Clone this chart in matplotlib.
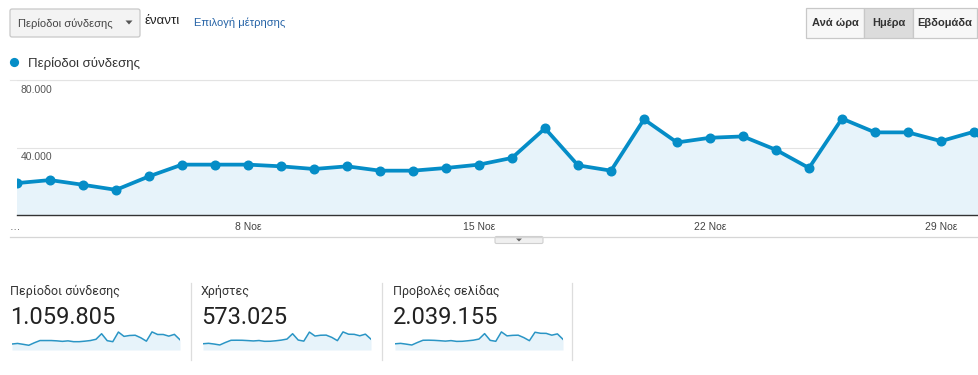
import matplotlib
matplotlib.use("Agg")
import matplotlib.pyplot as plt
from matplotlib.patches import FancyBboxPatch, Rectangle, Circle, Polygon

# ---------------- data ----------------
day_index = list(range(31))  # 1 Nov .. 1 Dec
sessions = [18900, 20700, 17900, 14900, 22900, 29850, 29850, 29850, 28850, 27250,
            28850, 26270, 26270, 27860, 29850, 33830, 51340, 29430, 26270, 56700,
            42990, 45770, 46570, 38610, 27860, 57110, 48960, 48960, 43780, 49350,
            32200]
users = [10300, 11000, 9800, 8300, 12400, 16000, 16100, 16000, 15500, 14900,
         15600, 14300, 14400, 15200, 16300, 18000, 26800, 16400, 14600, 29500,
         23000, 24300, 24500, 20800, 15400, 29800, 26000, 25800, 23400, 26100,
         17800]
pageviews = [36000, 38500, 34000, 29000, 43500, 56500, 57000, 56000, 54000, 51500,
             54500, 50000, 50500, 53500, 57000, 63500, 95000, 56000, 50500, 105000,
             82000, 85000, 86000, 72000, 54000, 103000, 97000, 96500, 86000, 93500,
             62000]
tick_days = [7, 14, 21, 28]
tick_labels = ["8 Νοε", "15 Νοε", "22 Νοε", "29 Νοε"]
y_ticks = [40000, 80000]
y_tick_labels = ["40.000", "80.000"]
metric_names = ["Περίοδοι σύνδεσης", "Χρήστες", "Προβολές σελίδας"]
metric_totals = ["1.059.805", "573.025", "2.039.155"]
buttons = ["Ανά ώρα", "Ημέρα", "Εβδομάδα"]

BLUE = "#058dc7"
FILL = "#e7f3fa"
W, H = 979, 375

plt.rcParams['font.family'] = ['Liberation Sans', 'DejaVu Sans']
fig = plt.figure(figsize=(W / 100, H / 100), dpi=100)
fig.patch.set_facecolor("white")

# overlay axes in pixel coordinates for UI decorations
ui = fig.add_axes([0, 0, 1, 1], zorder=0)
ui.set_xlim(0, W)
ui.set_ylim(H, 0)
ui.axis("off")


def fb(x, y, w, h):
    return [x / W, 1 - (y + h) / H, w / W, h / H]


# ---- top controls ----
ui.add_patch(FancyBboxPatch((10, 9), 130, 28, boxstyle="round,pad=0,rounding_size=2",
                            fc="#f3f3f3", ec="#c8c8c8", lw=0.9))
ui.text(18, 23.5, "Περίοδοι σύνδεσης", fontsize=8, color="#444", va="center", ha="left")
ui.add_patch(Polygon([[125.5, 20.5], [132.5, 20.5], [129, 24.5]], closed=True, fc="#555", ec="none"))
ui.text(145, 21, "έναντι", fontsize=9.5, color="#222", va="center", ha="left")
ui.text(194, 22.5, "Επιλογή μέτρησης", fontsize=8, color="#2563a6", va="center", ha="left")

bx = [806, 864, 913, 977]
for i, lab in enumerate(buttons):
    fc = "#dcdcdc" if i == 1 else "#f7f7f7"
    ui.add_patch(Rectangle((bx[i], 8), bx[i + 1] - bx[i], 30, fc=fc, ec="#c8c8c8", lw=0.9))
    ui.text((bx[i] + bx[i + 1]) / 2, 23.5, lab, fontsize=8, fontweight="bold",
            color="#333", va="center", ha="center")

# legend
ui.add_patch(Circle((14.5, 62.5), 4.6, fc=BLUE, ec="none"))
ui.text(28, 63.5, metric_names[0], fontsize=9.5, color="#333", va="center", ha="left")

# top frame line and separator under chart
ui.plot([10, W], [80, 80], color="#e6e6e6", lw=0.8)
ui.plot([10, W], [236.5, 236.5], color="#d6d6d6", lw=0.9)
ui.add_patch(FancyBboxPatch((495, 236.5), 48, 7, boxstyle="round,pad=0,rounding_size=1.5",
                            fc="#f0f0f0", ec="#cfcfcf", lw=0.8))
ui.add_patch(Polygon([[516, 238.5], [522, 238.5], [519, 241.5]], closed=True, fc="#666", ec="none"))

# ---- main chart ----
ax = fig.add_axes(fb(17, 80, W - 17, 135), zorder=2)
ax.patch.set_alpha(0)
ax.fill_between(day_index, sessions, 0, color=FILL, lw=0)
ax.plot(day_index, sessions, color=BLUE, lw=2.7, marker="o", ms=6.2, solid_joinstyle="round")
ax.set_xlim(0, (W - 17) / 33.0)
ax.set_ylim(0, 80000)
for yt in y_ticks:
    ax.axhline(yt, color="#e3e3e3", lw=0.8, zorder=0)
for s in ["top", "right", "left"]:
    ax.spines[s].set_visible(False)
ax.spines["bottom"].set_color("#333")
ax.spines["bottom"].set_linewidth(1.0)
ax.set_yticks([])
ax.set_xticks(tick_days)
ax.set_xticklabels(tick_labels, fontsize=7.5, color="#444")
ax.tick_params(axis="x", length=0, pad=5)
for yt, lab in zip(y_ticks, y_tick_labels):
    ax.text(0.1, yt - 2800, lab, fontsize=7.5, color="#555", va="top", ha="left")
ui.text(15, 227, "…", fontsize=7.5, color="#444", va="center", ha="center")

# ---- scorecards ----
card_x = [10, 201, 393]
spark_x = [12, 203, 395]
series = [sessions, users, pageviews]
for i in range(3):
    ui.text(card_x[i], 291, metric_names[i], fontsize=9, color="#333", va="center", ha="left",
            family=["Roboto", "DejaVu Sans"])
    ui.text(card_x[i], 318, metric_totals[i], fontsize=17, color="#222", va="center", ha="left",
            family=["Roboto", "DejaVu Sans"])
    sa = fig.add_axes(fb(spark_x[i], 331, 168, 19), zorder=2)
    sa.patch.set_alpha(0)
    sa.fill_between(day_index, series[i], 0, color=FILL, lw=0)
    sa.plot(day_index, series[i], color="#2a95c5", lw=1.1)
    sa.set_xlim(0, 30)
    sa.set_ylim(0, max(series[i]) * 1.05)
    sa.axis("off")

for x in [191, 382, 572]:
    ui.plot([x, x], [283, 360], color="#dddddd", lw=0.9)

fig.savefig("out.png", dpi=100)
